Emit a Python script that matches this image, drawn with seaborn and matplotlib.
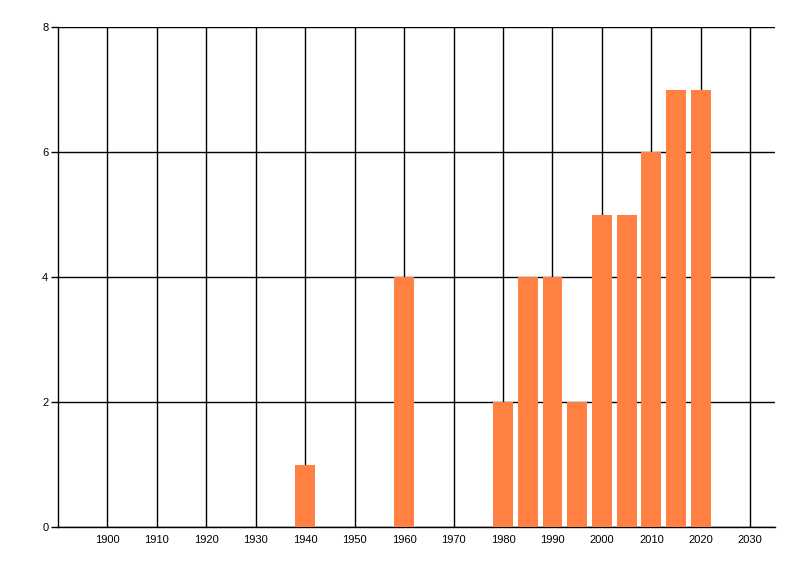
import matplotlib
matplotlib.use("Agg")
import matplotlib.pyplot as plt
import seaborn as sns

years = [1940, 1960, 1980, 1985, 1990, 1995, 2000, 2005, 2010, 2015, 2020]
counts = [1, 4, 2, 4, 4, 2, 5, 5, 6, 7, 7]
xticks = list(range(1900, 2031, 10))
yticks = [0, 2, 4, 6, 8]

sns.set_style("white")
plt.rcParams['font.family'] = ['Liberation Sans', 'DejaVu Sans']

fig = plt.figure(figsize=(8, 5.76), dpi=100)
ax = fig.add_axes([58 / 800, 49 / 576, 717 / 800, 500 / 576])

sns.barplot(x=years, y=counts, native_scale=True, width=0.8,
            color="#FF8040", saturation=1, linewidth=0, edgecolor="none",
            ax=ax, zorder=3)

ax.set_xlim(1890, 2035)
ax.set_ylim(0, 8)
ax.set_xticks(xticks)
ax.set_yticks(yticks)
ax.set_xticklabels([str(t) for t in xticks])

ax.grid(True, color="black", linewidth=1)
ax.set_axisbelow(True)

for s in ["top", "right"]:
    ax.spines[s].set_visible(False)
for s in ["left", "bottom"]:
    ax.spines[s].set_color("black")
    ax.spines[s].set_linewidth(1)

ax.tick_params(axis="x", length=0, pad=6, labelsize=8, colors="black")
ax.tick_params(axis="y", length=5, width=1, pad=2, labelsize=8, colors="black", left=True)
ax.set_xlabel("")
ax.set_ylabel("")

fig.savefig("out.png", dpi=100)
